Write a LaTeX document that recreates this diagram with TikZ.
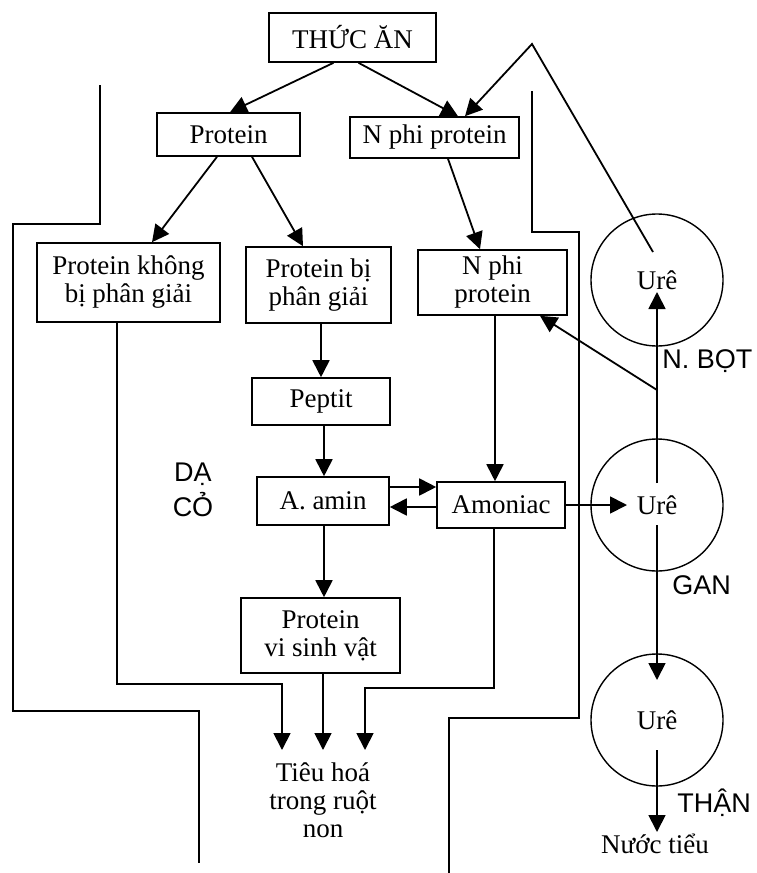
\documentclass[tikz,border=0pt]{standalone}
\usepackage{fontspec}
\setmainfont{Liberation Serif}
\setsansfont{Liberation Sans}
\usetikzlibrary{arrows.meta,calc}

\begin{document}
\begin{tikzpicture}[
        x=0.5pt, y=-0.5pt,
        font=\fontsize{13.5}{14}\selectfont,
        box/.style={
            draw,
            line width=0.8pt,
            align=center,
            inner sep=0pt
        },
        ure/.style={
            draw,
            circle,
            line width=0.7pt,
            minimum size=66pt,
            inner sep=0pt
        },
        organ/.style={
            font=\sffamily\fontsize{13.5}{17.5}\selectfont,
            align=center,
            inner xsep=0pt
        },
        flow/.style={-{Triangle[length=8.5pt,width=8.5pt]}, line width=0.9pt},
        wall/.style={line width=1.2pt}
    ]
        \useasboundingbox (0,0) rectangle (756,873);

        % Feed and its two nitrogen parts
        \node[box, minimum width=83.5pt, minimum height=24.5pt] (food)
            at (352.5,37.5) {THỨC ĂN};
        \node[box, minimum width=71.5pt, minimum height=21.5pt] (protein)
            at (228.5,134.5) {Protein};
        \node[box, minimum width=84.5pt, minimum height=20.5pt] (nphi)
            at (434.5,137.5) {N phi protein};

        % Inside the rumen
        \node[box, minimum width=91.5pt, minimum height=39.5pt] (pkhong)
            at (128.5,282.5) {Protein không\\bị phân giải};
        \node[box, minimum width=72.5pt, minimum height=38pt] (pbi)
            at (318.5,285) {Protein bị\\phân giải};
        \node[box, minimum width=74.5pt, minimum height=32.5pt] (nphirumen)
            at (492.5,282.5) {N phi\\protein};
        \node[box, minimum width=69pt, minimum height=23.5pt] (peptit)
            at (321,401.5) {Peptit};
        \node[box, minimum width=66pt, minimum height=24pt] (amin)
            at (323,501) {A. amin};
        \node[box, minimum width=64pt, minimum height=23pt] (amoniac)
            at (501,505) {Amoniac};
        \node[box, minimum width=79.5pt, minimum height=37.5pt] (pvsv)
            at (320.5,635.5) {Protein\\vi sinh vật};

        \node[anchor=north, align=center, inner ysep=6pt] (ruot)
            at (323,750) {Tiêu hoá\\trong ruột\\non};
        \coordinate (in1) at ($(ruot.north)+(-41,0)$);
        \coordinate (in2) at (ruot.north);
        \coordinate (in3) at ($(ruot.north)+(42,0)$);

        % Urea circles
        \node[ure] (ure1) at (657,280) {Urê};
        \node[ure] (ure2) at (657,505) {Urê};
        \node[ure] (ure3) at (657,720) {Urê};
        \node[anchor=north, inner sep=1pt] (nuoc) at (655,832) {Nước tiểu};

        \node[organ] (dayco) at (193,490) {DẠ\\CỎ};
        \node[organ, anchor=west] (nbot) at (662,361) {N. BỌT};
        \node[organ, anchor=west] (gan) at (672,585) {GAN};
        \node[organ, anchor=west] (than) at (677,803) {THẬN};

        \coordinate (apex) at (532,44);
        \coordinate (fork) at (657,390);

        % Walls of the rumen
        \draw[wall] (100,85) -- (100,224) -- (13,224) -- (13,711)
            -- (199,711) -- (199,863);
        \draw[wall] (532,91) -- (532,232) -- (579,232) -- (579,718)
            -- (449,718) -- (449,873);

        \draw[flow] ($(food.south)+(-19,0)$) -- ($(protein.north)+(1.5,0)$);
        \draw[flow] ($(food.south)+(6,0)$) -- ($(nphi.north)+(23.5,0)$);
        \draw[flow] ($(ure1)+(-4,-28)$) -- (apex) -- ($(nphi.north)+(30.5,0)$);
        \draw[flow] ($(protein.south)+(-11.5,0)$) -- ($(pkhong.north)+(23.5,0)$);
        \draw[flow] ($(protein.south)+(23.5,0)$) -- ($(pbi.north)+(-15.5,0)$);
        \draw[flow] ($(nphi.south)+(13.5,0)$) -- ($(nphirumen.north)+(-12.5,0)$);
        \draw[flow] (peptit.north |- pbi.south) -- (peptit.north);
        \draw[flow] ($(peptit.south)+(3,0)$) -- ($(amin.north)+(1,0)$);
        \draw[flow] ($(nphirumen.south)+(2.5,0)$) -- ($(amoniac.north)+(-6,0)$);
        \draw[flow] ($(amin.east)+(0,-14)$) -- ($(amoniac.west)+(0,-18)$);
        \draw[flow] ($(amoniac.west)+(0,2)$) -- ($(amin.east)+(0,6)$);
        \draw[flow] (amoniac.east) -- ($(ure2)+(-30,0)$);
        \draw[flow] ($(amin.south)+(1,0)$) -- ($(pvsv.north)+(3.5,0)$);

        % Towards the small intestine
        \draw[flow] ($(pkhong.south)+(-11.5,0)$) |- ($(in1)+(0,-66)$) -- (in1);
        \draw[flow] (pvsv.south -| in2) -- (in2);
        \draw[flow] ($(amoniac.south)+(-7,0)$) |- ($(in3)+(0,-62)$) -- (in3);

        % Urea recycling and excretion
        \draw[flow] ($(ure2)+(0,-22)$) -- ($(ure1)+(0,12)$);
        \draw[flow] (fork) -- ($(nphirumen.south)+(47.5,0)$);
        \draw[flow] ($(ure2)+(0,20)$) -- ($(ure3)+(0,-40)$);
        \draw[flow] ($(ure3)+(0,30)$) -- (nuoc.north -| ure3);
    \end{tikzpicture}
\end{document}
